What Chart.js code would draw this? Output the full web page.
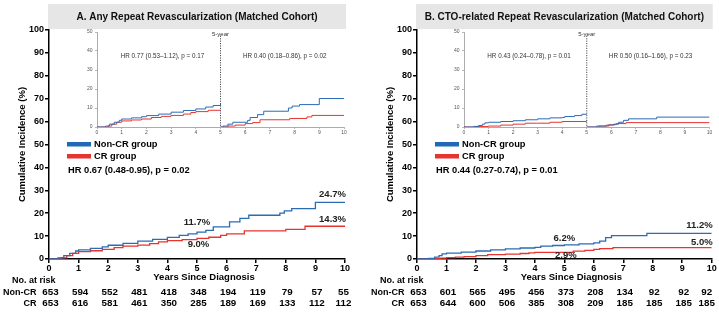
<!DOCTYPE html>
<html>
<head>
<meta charset="utf-8">
<script src="https://cdn.jsdelivr.net/npm/chart.js@4"></script>
<style>
  body { margin: 0; background: #fff; }
  #figura { position: relative; width: 719px; height: 312px; }
  #figura canvas { position: absolute; }
</style>
</head>
<body>
<div id="figura">
  <canvas id="principalA" width="360" height="312" style="left:0px;top:0px"></canvas>
  <canvas id="principalB" width="359" height="312" style="left:360px;top:0px"></canvas>
  <canvas id="insetA" width="272" height="116" style="left:80px;top:24px"></canvas>
  <canvas id="insetB" width="272" height="116" style="left:447px;top:24px"></canvas>
</div>
<script>
Chart.defaults.font.family = '"Liberation Sans", Arial, sans-serif';
Chart.defaults.color = '#000';

const AZUL = '#2b6cb3';
const VERMELHO = '#e8332f';

// Dados comuns
const anos = [0, 1, 2, 3, 4, 5, 6, 7, 8, 9, 10];
const series = ['Non-CR group', 'CR group'];
const rotulosRisco = ['No. at risk', 'Non-CR', 'CR'];

// Painel A
const tituloA = 'A. Any Repeat Revascularization (Matched Cohort)';
const hrA = 'HR 0.67 (0.48-0.95), p = 0.02';
const hrInsetA = ['HR 0.77 (0.53\u20131.12), p = 0.17', 'HR 0.40 (0.18\u20130.86), p = 0.02'];
const tempoNonCrA = [0, 0.3, 0.5, 0.7, 0.9, 1.0, 1.4, 1.8, 2.0, 2.5, 3.0, 3.5, 4.0, 4.4, 4.7, 5.0, 5.3, 5.55, 6.1, 6.45, 6.75, 7.8, 7.95, 8.2, 9.0, 10];
const incNonCrA = [0, 0.5, 1.5, 2.5, 3.5, 4.0, 4.6, 5.3, 6.0, 6.8, 7.8, 8.6, 9.4, 10.3, 11.0, 11.7, 12.5, 14.0, 16.2, 17.7, 19.1, 20.0, 21.0, 22.0, 24.7, 24.7];
const tempoCrA = [0, 0.4, 0.6, 0.8, 1.0, 1.4, 1.8, 2.2, 2.5, 3.0, 3.4, 3.7, 4.0, 4.5, 5.0, 5.4, 5.8, 6.0, 6.6, 8.0, 8.65, 10];
const incCrA = [0, 0.5, 1.5, 2.5, 3.2, 3.6, 4.2, 5.0, 5.6, 6.1, 6.7, 7.5, 8.0, 8.5, 9.0, 9.5, 10.3, 11.0, 12.3, 12.9, 14.3, 14.3];
const marcasNonCrA = [11.7, 24.7];
const marcasCrA = [9.0, 14.3];
const riscoNonCrA = [653, 594, 552, 481, 418, 348, 194, 119, 79, 57, 55];
const riscoCrA = [653, 616, 581, 461, 350, 285, 189, 169, 133, 112, 112];
// inset A (landmark 0-5 e 5-10)
const tempoNonCrA1 = [0, 0.35, 0.5, 0.7, 0.9, 1.0, 1.4, 1.8, 2.0, 2.5, 3.0, 3.5, 4.0, 4.4, 4.7, 5.0];
const incNonCrA1 = [0, 0.5, 1.5, 2.5, 3.5, 4.2, 4.8, 5.4, 6.0, 6.8, 7.8, 8.7, 9.5, 10.5, 11.3, 12.1];
const tempoCrA1 = [0, 0.45, 0.6, 0.8, 1.0, 1.4, 1.8, 2.2, 2.6, 3.0, 3.5, 3.8, 4.0, 4.5, 5.0];
const incCrA1 = [0, 0.5, 1.5, 2.5, 3.2, 3.7, 4.2, 5.0, 5.6, 6.1, 6.8, 7.6, 8.1, 8.8, 9.0];
const tempoNonCrA2 = [5, 5.1, 5.3, 5.5, 6.1, 6.2, 6.5, 6.75, 7.75, 7.9, 8.2, 9.0, 10];
const incNonCrA2 = [0, 0.5, 1.5, 2.5, 3.5, 5.0, 6.5, 8.3, 10.0, 11.0, 11.8, 15.0, 15.0];
const tempoCrA2 = [5, 5.3, 5.6, 6.0, 6.3, 6.6, 7.8, 8.5, 8.7, 10];
const incCrA2 = [0, 0.5, 1.0, 1.8, 2.3, 3.8, 4.5, 5.3, 6.1, 6.1];

// Painel B
const tituloB = 'B. CTO-related Repeat Revascularization (Matched Cohort)';
const hrB = 'HR 0.44 (0.27-0.74), p = 0.01';
const hrInsetB = ['HR 0.43 (0.24\u20130.78), p = 0.01', 'HR 0.50 (0.16\u20131.66), p = 0.23'];
const tempoNonCrB = [0, 0.4, 0.6, 0.75, 0.85, 1.0, 1.5, 2.0, 2.5, 3.0, 3.5, 4.0, 4.2, 4.6, 5.0, 5.5, 6.0, 6.2, 6.4, 6.6, 7.8, 10];
const incNonCrB = [0, 0.3, 0.8, 1.5, 2.2, 2.6, 3.0, 3.5, 4.0, 4.4, 4.8, 5.1, 5.6, 5.9, 6.2, 6.6, 7.0, 7.8, 9.3, 10.2, 11.2, 11.2];
const tempoCrB = [0, 0.5, 0.8, 1.0, 1.3, 1.6, 2.0, 2.4, 3.0, 3.5, 3.8, 4.0, 5.0, 5.3, 5.7, 6.0, 6.2, 6.65, 10];
const incCrB = [0, 0.2, 0.4, 0.6, 0.8, 1.0, 1.5, 1.9, 2.1, 2.4, 2.7, 2.9, 2.9, 3.4, 3.8, 4.2, 4.5, 5.0, 5.0];
const marcasNonCrB = [6.2, 11.2];
const marcasCrB = [2.9, 5.0];
const riscoNonCrB = [653, 601, 565, 495, 456, 373, 208, 134, 92, 92, 92];
const riscoCrB = [653, 644, 600, 506, 385, 308, 209, 185, 185, 185, 185];
// inset B
const tempoNonCrB1 = [0, 0.4, 0.6, 0.75, 0.85, 1.0, 1.5, 2.0, 2.5, 3.0, 3.5, 4.0, 4.1, 4.5, 4.8, 5.0];
const incNonCrB1 = [0, 0.3, 0.8, 1.5, 2.2, 2.5, 2.9, 3.3, 3.8, 4.3, 4.8, 5.0, 5.5, 6.0, 6.7, 6.7];
const tempoCrB1 = [0, 0.5, 1.0, 1.5, 2.0, 2.5, 3.0, 3.5, 4.0, 5.0];
const incCrB1 = [0, 0.3, 0.5, 1.0, 1.5, 2.0, 2.0, 2.5, 2.9, 2.9];
const tempoNonCrB2 = [5, 5.4, 5.8, 6.1, 6.3, 6.5, 6.7, 7.85, 10];
const incNonCrB2 = [0, 0.5, 1.0, 1.5, 2.5, 3.5, 4.3, 5.2, 5.2];
const tempoCrB2 = [5, 5.5, 5.9, 6.2, 6.6, 10];
const incCrB2 = [0, 0.5, 1.2, 1.8, 2.3, 2.3];

function pontos(tempos, valores) {
    return tempos.map((t, i) => ({ x: t, y: valores[i] }));
}

function linha(dados, cor, largura) {
    return {
        data: dados,
        borderColor: cor,
        borderWidth: largura,
        stepped: true,
        pointRadius: 0,
        fill: false
    };
}

// Titulo, legenda, HR, rotulos e tabela de risco
function pluginPainel(p) {
    return {
        id: 'painel',
        afterDraw(chart) {
            const { ctx, chartArea: area, scales: { x, y } } = chart;
            ctx.save();

            ctx.fillStyle = '#e6e6e6';
            ctx.fillRect(area.left - 1, 4, area.right - area.left + 2, 25);
            ctx.fillStyle = '#111';
            ctx.font = 'bold 10px "Liberation Sans", Arial, sans-serif';
            ctx.textAlign = 'center';
            ctx.textBaseline = 'middle';
            ctx.fillText(p.titulo, (area.left + area.right) / 2, 17);

            // legenda
            ctx.fillStyle = '#1f6ab3';
            ctx.fillRect(area.left + 18, 142, 24, 4.5);
            ctx.fillStyle = VERMELHO;
            ctx.fillRect(area.left + 18, 154, 24, 4.5);
            ctx.fillStyle = '#000';
            ctx.font = 'bold 9.3px "Liberation Sans", Arial, sans-serif';
            ctx.textAlign = 'left';
            ctx.fillText(series[0], area.left + 45, 144.5);
            ctx.fillText(series[1], area.left + 45, 156.5);
            ctx.fillText(p.hr, area.left + 19, 170);

            // eixo x
            ctx.textAlign = 'center';
            ctx.font = 'bold 9.5px "Liberation Sans", Arial, sans-serif';
            ctx.fillText('Years Since Diagnosis', (area.left + area.right) / 2 + 7, 277);

            // valores em 5 e 10 anos
            ctx.font = 'bold 9.5px "Liberation Sans", Arial, sans-serif';
            ctx.fillStyle = '#222';
            ctx.textAlign = 'center';
            ctx.fillText(p.marcasNonCr[0].toFixed(1) + '%', x.getPixelForValue(5), y.getPixelForValue(p.marcasNonCr[0]) + p.desvios[0]);
            ctx.fillText(p.marcasCr[0].toFixed(1) + '%', x.getPixelForValue(5.05), y.getPixelForValue(p.marcasCr[0]) + p.desvios[1]);
            ctx.textAlign = 'right';
            ctx.fillText(p.marcasNonCr[1].toFixed(1) + '%', x.getPixelForValue(10) + 1, y.getPixelForValue(p.marcasNonCr[1]) + p.desvios[2]);
            ctx.fillText(p.marcasCr[1].toFixed(1) + '%', x.getPixelForValue(10) + 1, y.getPixelForValue(p.marcasCr[1]) + p.desvios[3]);

            // tabela de risco
            ctx.fillStyle = '#000';
            ctx.font = 'bold 9px "Liberation Sans", Arial, sans-serif';
            ctx.textAlign = 'left';
            ctx.fillText(rotulosRisco[0], area.left - 37, 281);
            ctx.textAlign = 'right';
            ctx.fillText(rotulosRisco[1], area.left - 12.5, 292.5);
            ctx.fillText(rotulosRisco[2], area.left - 12.5, 303.5);
            ctx.font = 'bold 9.8px "Liberation Sans", Arial, sans-serif';
            ctx.textAlign = 'center';
            anos.forEach((ano, i) => {
                // a ultima coluna fica um pouco para dentro
                const ajuste = i === anos.length - 1 ? p.desvioUltima : 1.5;
                const px = x.getPixelForValue(ano) + ajuste;
                ctx.fillText(String(p.riscoNonCr[i]), px, 292.5);
                ctx.fillText(String(p.riscoCr[i]), px, 303.5);
            });
            ctx.restore();
        }
    };
}

function criarPrincipal(canvasId, p) {
    const ctx = document.getElementById(canvasId).getContext('2d');
    const fonteTick = { size: 9, weight: 'bold' };
    return new Chart(ctx, {
        type: 'line',
        data: {
            datasets: [
                linha(pontos(p.tempoNonCr, p.incNonCr), AZUL, 1.3),
                linha(pontos(p.tempoCr, p.incCr), VERMELHO, 1.3)
            ]
        },
        options: {
            responsive: false,
            animation: false,
            devicePixelRatio: 1,
            layout: { padding: { left: 0, top: 30, right: p.margemDireita, bottom: 29 } },
            plugins: { legend: { display: false }, tooltip: { enabled: false } },
            scales: {
                x: {
                    type: 'linear', min: 0, max: 10,
                    ticks: { stepSize: 1, padding: 0, font: fonteTick, color: '#000' },
                    grid: { drawOnChartArea: false, tickLength: 4, color: '#000', lineWidth: 1.5 },
                    border: { color: '#000', width: 1.5 },
                    afterFit: s => { s.height = 24; s.paddingLeft = 0; s.paddingRight = 0; }
                },
                y: {
                    type: 'linear', min: 0, max: 100,
                    ticks: { stepSize: 10, padding: 1, font: fonteTick, color: '#000' },
                    grid: { drawOnChartArea: false, tickLength: 4, color: '#000', lineWidth: 1.5 },
                    border: { color: '#000', width: 1.5 },
                    title: {
                        display: true, text: 'Cumulative Incidence (%)', color: '#000',
                        font: { size: 9.5, weight: 'bold' }, padding: { top: p.margemTituloY, bottom: 0 }
                    },
                    afterFit: s => { s.width = p.larguraY; s.paddingTop = 0; s.paddingBottom = 0; }
                }
            }
        },
        plugins: [pluginPainel(p)]
    });
}

// Linha tracejada de 5 anos e textos do inset
function pluginInset(p) {
    return {
        id: 'inset',
        afterDraw(chart) {
            const { ctx, scales: { x, y } } = chart;
            const px = x.getPixelForValue(5);
            ctx.save();
            ctx.strokeStyle = '#222';
            ctx.lineWidth = 0.8;
            ctx.setLineDash([1.2, 1.2]);
            ctx.beginPath();
            ctx.moveTo(px, y.getPixelForValue(48));
            ctx.lineTo(px, y.getPixelForValue(0));
            ctx.stroke();
            ctx.setLineDash([]);
            ctx.fillStyle = '#333';
            ctx.textAlign = 'center';
            ctx.textBaseline = 'middle';
            ctx.font = '6px "Liberation Sans", Arial, sans-serif';
            ctx.fillText('5-year', px, y.getPixelForValue(50) + 2);
            ctx.font = '6.3px "Liberation Sans", Arial, sans-serif';
            ctx.fillText(p.hrInset[0], x.getPixelForValue(2.65), y.getPixelForValue(37));
            ctx.fillText(p.hrInset[1], x.getPixelForValue(7.6), y.getPixelForValue(37));
            ctx.restore();
        }
    };
}

function criarInset(canvasId, p) {
    const ctx = document.getElementById(canvasId).getContext('2d');
    const fonteTick = { size: 5 };
    return new Chart(ctx, {
        type: 'line',
        data: {
            datasets: [
                linha(pontos(p.tempoNonCr1, p.incNonCr1), AZUL, 1),
                linha(pontos(p.tempoNonCr2, p.incNonCr2), AZUL, 1),
                linha(pontos(p.tempoCr1, p.incCr1), VERMELHO, 1),
                linha(pontos(p.tempoCr2, p.incCr2), VERMELHO, 1)
            ]
        },
        options: {
            responsive: false,
            animation: false,
            devicePixelRatio: 1,
            layout: { padding: { left: 0, top: 8, right: p.margemDireita, bottom: 3 } },
            plugins: { legend: { display: false }, tooltip: { enabled: false } },
            scales: {
                x: {
                    type: 'linear', min: 0, max: 10,
                    ticks: { stepSize: 1, padding: 0.5, font: fonteTick, color: '#555' },
                    grid: { drawOnChartArea: false, tickLength: 2, color: '#888', lineWidth: 0.6 },
                    border: { color: '#888', width: 0.7 },
                    afterFit: s => { s.height = 10; s.paddingLeft = 0; s.paddingRight = 0; }
                },
                y: {
                    type: 'linear', min: 0, max: 50,
                    ticks: { stepSize: 10, padding: 2.5, font: fonteTick, color: '#555' },
                    grid: { drawOnChartArea: false, tickLength: 2, color: '#888', lineWidth: 0.6 },
                    border: { color: '#888', width: 0.7 },
                    afterFit: s => { s.width = 17; s.paddingTop = 0; s.paddingBottom = 0; }
                }
            }
        },
        plugins: [pluginInset(p)]
    });
}

document.addEventListener('DOMContentLoaded', () => {
    criarPrincipal('principalA', {
        titulo: tituloA, hr: hrA,
        tempoNonCr: tempoNonCrA, incNonCr: incNonCrA, tempoCr: tempoCrA, incCr: incCrA,
        marcasNonCr: marcasNonCrA, marcasCr: marcasCrA, desvios: [-9.5, 5.5, -8.5, -7],
        riscoNonCr: riscoNonCrA, riscoCr: riscoCrA, desvioUltima: -1.5,
        larguraY: 49, margemDireita: 15, margemTituloY: 16.5
    });
    criarPrincipal('principalB', {
        titulo: tituloB, hr: hrB,
        tempoNonCr: tempoNonCrB, incNonCr: incNonCrB, tempoCr: tempoCrB, incCr: incCrB,
        marcasNonCr: marcasNonCrB, marcasCr: marcasCrB, desvios: [-6.5, 3, -7.5, -5],
        riscoNonCr: riscoNonCrB, riscoCr: riscoCrB, desvioUltima: -5,
        larguraY: 57, margemDireita: 7.3, margemTituloY: 24.5
    });
    criarInset('insetA', {
        hrInset: hrInsetA,
        tempoNonCr1: tempoNonCrA1, incNonCr1: incNonCrA1, tempoCr1: tempoCrA1, incCr1: incCrA1,
        tempoNonCr2: tempoNonCrA2, incNonCr2: incNonCrA2, tempoCr2: tempoCrA2, incCr2: incCrA2,
        margemDireita: 8
    });
    criarInset('insetB', {
        hrInset: hrInsetB,
        tempoNonCr1: tempoNonCrB1, incNonCr1: incNonCrB1, tempoCr1: tempoCrB1, incCr1: incCrB1,
        tempoNonCr2: tempoNonCrB2, incNonCr2: incNonCrB2, tempoCr2: tempoCrB2, incCr2: incCrB2,
        margemDireita: 9.5
    });
});
</script>
</body>
</html>
